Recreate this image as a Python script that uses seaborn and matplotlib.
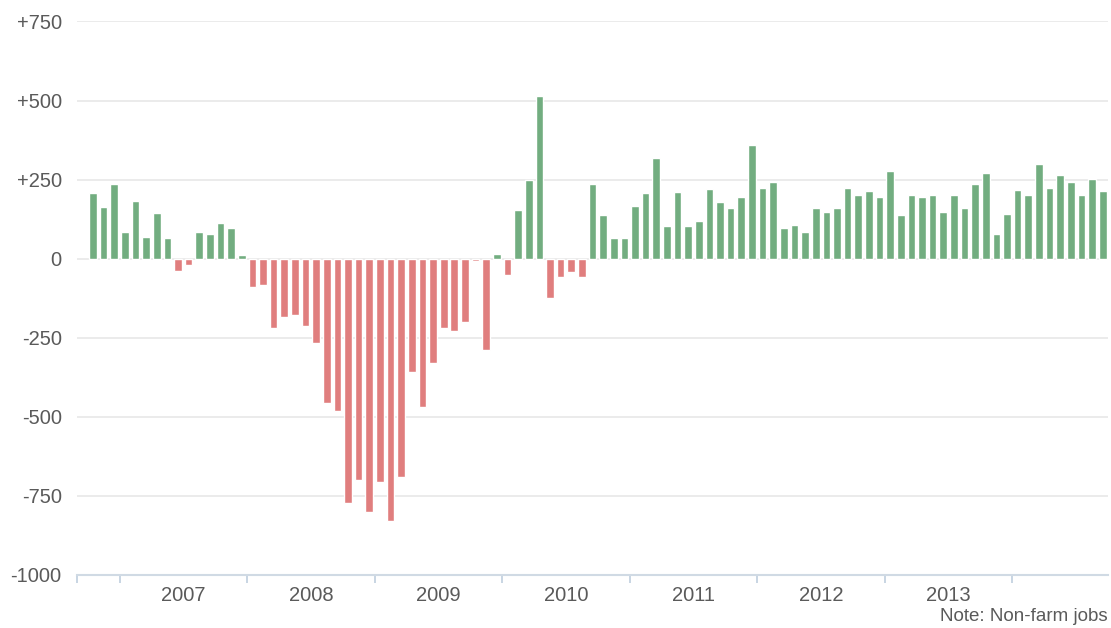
import matplotlib
matplotlib.use("Agg")
import matplotlib.pyplot as plt
import seaborn as sns
import numpy as np
import pandas as pd

# monthly change in non-farm jobs (thousands), Oct 2006 - Sep 2014
jobs_2006 = [207, 165, 235]
jobs_2007 = [83, 182, 70, 143, 65, -38, -20, 83, 77, 113, 96, 13]
jobs_2008 = [-90, -83, -218, -183, -177, -212, -265, -456, -480, -771, -701, -802]
jobs_2009 = [-707, -829, -690, -358, -468, -329, -218, -230, -200, -8, -288, 14]
jobs_2010 = [-53, 155, 248, 515, -123, -58, -41, -58, 236, 137, 67, 67]
jobs_2011 = [167, 208, 318, 104, 212, 104, 120, 219, 178, 161, 196, 358]
jobs_2012 = [224, 241, 97, 108, 85, 160, 149, 160, 224, 202, 214, 196]
jobs_2013 = [276, 137, 202, 196, 202, 149, 202, 160, 235, 270, 79, 142]
jobs_2014 = [217, 202, 298, 224, 265, 241, 202, 252, 214]

year_labels = ["2007", "2008", "2009", "2010", "2011", "2012", "2013"]
y_ticks = [750, 500, 250, 0, -250, -500, -750, -1000]
y_ticklabels = ["+750", "+500", "+250", "0", "-250", "-500", "-750", "-1000"]
note = "Note: Non-farm jobs"

values = (jobs_2006 + jobs_2007 + jobs_2008 + jobs_2009 + jobs_2010
          + jobs_2011 + jobs_2012 + jobs_2013 + jobs_2014)
months = pd.period_range("2006-10", periods=len(values), freq="M").astype(str)
df = pd.DataFrame({"month": months, "jobs": values})
df["sign"] = np.where(df["jobs"] >= 0, "up", "down")

green = "#72ad80"
red = "#e07e7e"
grey_text = "#5a5a5a"

sns.set_style("white")
plt.rcParams["font.family"] = ["Liberation Sans", "DejaVu Sans"]

fig = plt.figure(figsize=(11.11, 6.28), dpi=100)
ax = fig.add_axes([0.0693, 0.0844, 0.928, 0.8814])

sns.barplot(data=df, x="month", y="jobs", hue="sign",
            palette={"up": green, "down": red}, dodge=False,
            width=0.72, legend=False, saturation=1, ax=ax, zorder=3)

ax.set_xlim(-1.5, len(values) - 0.5)
ax.set_ylim(-1000, 750)

# gridlines
ax.set_yticks(y_ticks)
ax.set_yticklabels(y_ticklabels)
ax.yaxis.grid(True, color="#e6e6e6", linewidth=1.1, zorder=0)
ax.set_axisbelow(True)

# year boundaries as ticks, year names centred between them
boundaries = [-1.5] + [2.5 + 12 * k for k in range(8)]
ax.set_xticks(boundaries)
ax.set_xticklabels([""] * len(boundaries))
ax.set_xticks([8.5 + 12 * k for k in range(len(year_labels))], minor=True)
ax.set_xticklabels(year_labels, minor=True)
ax.tick_params(axis="x", which="major", bottom=True, length=6, width=1.3,
               color="#c4d2e0", direction="out")
ax.tick_params(axis="x", which="minor", bottom=True, length=0, pad=8,
               labelsize=14.5, labelcolor=grey_text)
ax.tick_params(axis="y", length=0, pad=11, labelsize=14.5, labelcolor=grey_text)

for s in ["top", "right", "left"]:
    ax.spines[s].set_visible(False)
ax.spines["bottom"].set_color("#d0dae4")
ax.spines["bottom"].set_linewidth(1.5)

ax.set_xlabel("")
ax.set_ylabel("")

fig.text(0.997, 0.004, note, ha="right", va="bottom", fontsize=13.5, color=grey_text)

plt.savefig("out.png", dpi=100)
